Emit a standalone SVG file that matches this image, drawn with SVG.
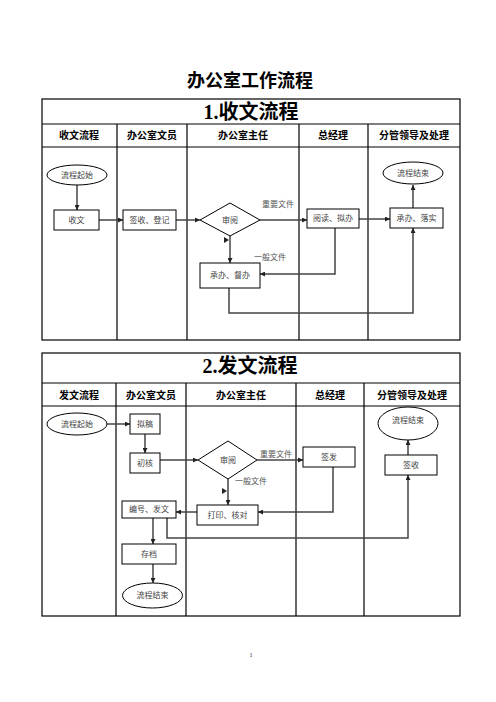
<svg xmlns="http://www.w3.org/2000/svg" width="496" height="702" viewBox="0 0 496 702">
<defs>
<marker id="ah" viewBox="0 0 10 10" refX="10" refY="5" markerWidth="5" markerHeight="5" orient="auto" markerUnits="userSpaceOnUse"><path d="M0,0 L10,5 L0,10 z" fill="#222"/></marker>
</defs>
<style>
.grid{fill:none;stroke:#000;stroke-width:1.2}
.nd{fill:#fff;stroke:#000;stroke-width:1}
.nt{font-family:"Liberation Serif","Noto Sans CJK SC",serif;font-size:8px;fill:#444;text-anchor:middle;dominant-baseline:central}
.lb{font-family:"Liberation Serif","Noto Sans CJK SC",serif;font-size:8px;fill:#555}
.hd{font-family:"Noto Sans CJK SC",sans-serif;font-size:10px;font-weight:bold;fill:#000;text-anchor:middle}
.st{font-family:"Liberation Serif","Noto Sans CJK SC",serif;font-size:20px;font-weight:bold;fill:#000;text-anchor:middle}
.cn{fill:none;stroke:#444;stroke-width:1.5}
.tk{fill:#222}
</style>
<rect width="496" height="702" fill="#fff"/>
<text x="250" y="87" font-family="Noto Sans CJK SC,sans-serif" font-size="18" font-weight="bold" text-anchor="middle">办公室工作流程</text>

<g id="table1">
<rect class="grid" x="42" y="99" width="418" height="241"/>
<line class="grid" x1="42" y1="124" x2="460" y2="124"/>
<line class="grid" x1="42" y1="147" x2="460" y2="147"/>
<line class="grid" x1="117" y1="124" x2="117" y2="340"/>
<line class="grid" x1="187" y1="124" x2="187" y2="340"/>
<line class="grid" x1="299" y1="124" x2="299" y2="340"/>
<line class="grid" x1="368" y1="124" x2="368" y2="340"/>
<text class="st" x="251" y="119">1.收文流程</text>
<text class="hd" x="79" y="139">收文流程</text>
<text class="hd" x="152" y="139">办公室文员</text>
<text class="hd" x="243" y="139">办公室主任</text>
<text class="hd" x="333" y="139">总经理</text>
<text class="hd" x="414" y="139">分管领导及处理</text>
</g>

<g id="table2">
<rect class="grid" x="42" y="353" width="418" height="263"/>
<line class="grid" x1="42" y1="383" x2="460" y2="383"/>
<line class="grid" x1="42" y1="406" x2="460" y2="406"/>
<line class="grid" x1="116" y1="383" x2="116" y2="616"/>
<line class="grid" x1="186" y1="383" x2="186" y2="616"/>
<line class="grid" x1="296" y1="383" x2="296" y2="616"/>
<line class="grid" x1="364" y1="383" x2="364" y2="616"/>
<text class="st" x="250" y="373">2.发文流程</text>
<text class="hd" x="79" y="399">发文流程</text>
<text class="hd" x="151" y="399">办公室文员</text>
<text class="hd" x="241" y="399">办公室主任</text>
<text class="hd" x="330" y="399">总经理</text>
<text class="hd" x="412" y="399">分管领导及处理</text>
</g>

<g id="connectors">
<line class="cn" x1="77" y1="185" x2="77" y2="210" marker-end="url(#ah)"/>
<line class="cn" x1="99" y1="220" x2="123" y2="220" marker-end="url(#ah)"/>
<line class="cn" x1="176" y1="220" x2="200" y2="220" marker-end="url(#ah)"/>
<line class="cn" x1="260" y1="220" x2="307" y2="220" marker-end="url(#ah)"/>
<line class="cn" x1="359" y1="219" x2="390" y2="219" marker-end="url(#ah)"/>
<line class="cn" x1="413" y1="208" x2="413" y2="185" marker-end="url(#ah)"/>
<line class="cn" x1="230" y1="236" x2="230" y2="263" marker-end="url(#ah)"/>
<path class="tk" d="M224,237 L229,240 L224,243 z"/>
<polyline class="cn" points="335,228 335,274 260,274" marker-end="url(#ah)"/>
<polyline class="cn" points="229,288 229,313 413,313 413,228" marker-end="url(#ah)"/>
<line class="cn" x1="107" y1="424" x2="130" y2="424" marker-end="url(#ah)"/>
<line class="cn" x1="145" y1="434" x2="145" y2="453" marker-end="url(#ah)"/>
<line class="cn" x1="160" y1="460" x2="198" y2="460" marker-end="url(#ah)"/>
<line class="cn" x1="257" y1="460" x2="303" y2="460" marker-end="url(#ah)"/>
<line class="cn" x1="228" y1="479" x2="228" y2="505" marker-end="url(#ah)"/>
<path class="tk" d="M222,488 L227,491 L222,494 z"/>
<polyline class="cn" points="333,467 333,512 258,512" marker-end="url(#ah)"/>
<line class="cn" x1="197" y1="512" x2="176" y2="512" marker-end="url(#ah)"/>
<line class="cn" x1="153" y1="518" x2="153" y2="544" marker-end="url(#ah)"/>
<line class="cn" x1="153" y1="564" x2="153" y2="583" marker-end="url(#ah)"/>
<polyline class="cn" points="167,518 167,538 408,538 408,475" marker-end="url(#ah)"/>
<line class="cn" x1="408" y1="455" x2="408" y2="440" marker-end="url(#ah)"/>
</g>

<g id="n1-start"><ellipse class="nd" cx="77" cy="175" rx="30" ry="10"/><text class="nt" x="77" y="175">流程起始</text></g>
<g id="n1-receive"><rect class="nd" x="54" y="210" width="45" height="20"/><text class="nt" x="76.5" y="220">收文</text></g>
<g id="n1-register"><rect class="nd" x="123" y="210" width="53" height="20"/><text class="nt" x="149.5" y="220">签收、登记</text></g>
<g id="n1-review"><polygon class="nd" points="200,220 230,203 260,220 230,236"/><text class="nt" x="230" y="220">审阅</text></g>
<g id="n1-read"><rect class="nd" x="307" y="209" width="52" height="19"/><text class="nt" x="333" y="218.5">阅读、拟办</text></g>
<g id="n1-implement"><rect class="nd" x="390" y="208" width="53" height="20"/><text class="nt" x="416.5" y="218">承办、落实</text></g>
<g id="n1-end"><ellipse class="nd" cx="413" cy="173" rx="30" ry="11"/><text class="nt" x="413" y="173">流程结束</text></g>
<g id="n1-supervise"><rect class="nd" x="200" y="263" width="60" height="25"/><text class="nt" x="230" y="275.5">承办、督办</text></g>
<g id="l1-important"><text class="lb" x="262" y="207">重要文件</text></g>
<g id="l1-general"><text class="lb" x="254" y="260">一般文件</text></g>

<g id="n2-start"><ellipse class="nd" cx="77" cy="424" rx="30" ry="11"/><text class="nt" x="77" y="424">流程起始</text></g>
<g id="n2-draft"><rect class="nd" x="130" y="414" width="30" height="20"/><text class="nt" x="145" y="424">拟稿</text></g>
<g id="n2-check"><rect class="nd" x="130" y="453" width="30" height="20"/><text class="nt" x="145" y="463">初核</text></g>
<g id="n2-review"><polygon class="nd" points="198,460 228,441 257,460 228,479"/><text class="nt" x="228" y="460">审阅</text></g>
<g id="n2-sign"><rect class="nd" x="303" y="447" width="52" height="20"/><text class="nt" x="329" y="457">签发</text></g>
<g id="n2-print"><rect class="nd" x="197" y="505" width="61" height="20"/><text class="nt" x="227.5" y="515">打印、核对</text></g>
<g id="n2-number"><rect class="nd" x="122" y="501" width="54" height="17"/><text class="nt" x="149" y="509.5">编号、发文</text></g>
<g id="n2-archive"><rect class="nd" x="122" y="544" width="54" height="20"/><text class="nt" x="149" y="554">存档</text></g>
<g id="n2-end1"><ellipse class="nd" cx="152.5" cy="595.5" rx="30" ry="12.5"/><text class="nt" x="152.5" y="595.5">流程结束</text></g>
<g id="n2-receipt"><rect class="nd" x="385" y="455" width="52" height="20"/><text class="nt" x="411" y="465">签收</text></g>
<g id="n2-end2"><ellipse class="nd" cx="408" cy="423.5" rx="30" ry="16.5"/><text class="nt" x="408" y="420">流程结束</text></g>
<g id="l2-important"><text class="lb" x="260" y="457">重要文件</text></g>
<g id="l2-general"><text class="lb" x="235" y="484">一般文件</text></g>

<text x="251" y="657" font-family="Liberation Serif,serif" font-size="6" text-anchor="middle" fill="#222">1</text>
</svg>
